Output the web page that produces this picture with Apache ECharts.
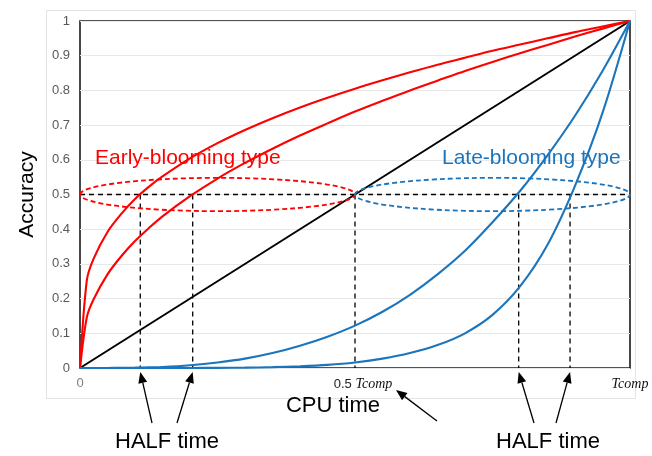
<!DOCTYPE html>
<html><head><meta charset="utf-8">
<script src="https://cdn.jsdelivr.net/npm/echarts@6/dist/echarts.min.js"></script>
<style>html,body{margin:0;padding:0;background:#fff}#c{width:652px;height:456px}</style>
</head><body><div id="c"></div>
<script>
// ---- data ----
const xs          = [0, 0.0125, 0.025, 0.05, 0.075, 0.1, 0.125, 0.15, 0.2, 0.25, 0.3, 0.35, 0.4, 0.45, 0.5, 0.55, 0.6, 0.65, 0.7, 0.75, 0.8, 0.85, 0.9, 0.95, 1];
const earlyFast   = [0, 0.254, 0.316, 0.392, 0.444, 0.487, 0.522, 0.552, 0.604, 0.648, 0.686, 0.720, 0.751, 0.779, 0.805, 0.829, 0.852, 0.874, 0.894, 0.914, 0.932, 0.950, 0.968, 0.984, 1];
const earlySlow   = [0, 0.147, 0.199, 0.270, 0.322, 0.366, 0.403, 0.437, 0.495, 0.546, 0.591, 0.632, 0.670, 0.705, 0.739, 0.770, 0.800, 0.828, 0.856, 0.882, 0.907, 0.931, 0.955, 0.978, 1];
const lateSlow    = [0, 0, 0, 0.0001, 0.0004, 0.001, 0.002, 0.003, 0.008, 0.016, 0.027, 0.043, 0.064, 0.090, 0.122, 0.162, 0.211, 0.270, 0.338, 0.420, 0.510, 0.613, 0.727, 0.856, 1];
const lateSlower  = [0, 0, 0, 0, 0, 0, 0, 0, 0.0001, 0.0004, 0.001, 0.0025, 0.005, 0.009, 0.016, 0.027, 0.043, 0.066, 0.100, 0.153, 0.235, 0.355, 0.525, 0.735, 1];
const diagonal    = [[0, 0], [1, 1]];
const halfLevel   = 0.5;
const halfTimes   = [0.1096, 0.2049, 0.5, 0.7976, 0.891];
const ellipses    = [[0.25, 0.5, 0.25, 0.048], [0.75, 0.5, 0.25, 0.048]]; // cx, cy, rx, ry
const yTickLabels = ['0', '0.1', '0.2', '0.3', '0.4', '0.5', '0.6', '0.7', '0.8', '0.9', '1'];
const xTickLabels = {0: '{g|0}', 0.5: '{n|0.5 }{t|Tcomp}', 1: '{t|Tcomp}'};
const typeLabels  = ['Early-blooming type', 'Late-blooming type'];

const RED = '#ff0000', BLUE = '#1b75bc';
const chart = echarts.init(document.getElementById('c'));
const pairs = ys => xs.map((x, i) => [x, ys[i]]);
const curve = (ys, color) => ({
  type: 'line', data: pairs(ys), showSymbol: false, smooth: 0.3,
  clip: false, lineStyle: {color, width: 2.1}, itemStyle: {color}, z: 4, silent: true
});

chart.setOption({
  animation: false,
  grid: {left: 80, right: 22, top: 21, bottom: 88, show: true, borderColor: '#1a1a1a', borderWidth: 1.6, backgroundColor: '#fff'},
  xAxis: {
    type: 'value', min: 0, max: 1, interval: 0.5,
    axisLine: {show: false}, axisTick: {show: false}, splitLine: {show: false},
    axisLabel: {
      margin: 9, formatter: v => xTickLabels[v] || '',
      rich: {
        g: {color: '#7f7f7f', fontSize: 13, fontFamily: 'Liberation Sans'},
        n: {color: '#222', fontSize: 13, fontFamily: 'Liberation Sans', padding: [0, 0, 0, 16]},
        t: {color: '#111', fontSize: 14, fontStyle: 'italic', fontFamily: 'Liberation Serif'}
      }
    }
  },
  yAxis: {
    type: 'value', min: 0, max: 1, interval: 0.1,
    name: 'Accuracy', nameLocation: 'middle', nameGap: 42,
    nameTextStyle: {color: '#000', fontSize: 21, fontFamily: 'Liberation Sans'},
    axisLine: {show: false}, axisTick: {show: false},
    splitLine: {lineStyle: {color: '#e8e8e8', width: 1}},
    axisLabel: {color: '#595959', fontSize: 13, fontFamily: 'Liberation Sans', margin: 10,
      formatter: v => yTickLabels[Math.round(v * 10)]}
  },
  series: [
    {type: 'line', data: diagonal, showSymbol: false, clip: false, lineStyle: {color: '#000', width: 2}, z: 3, silent: true},
    {type: 'line', data: [[0, halfLevel], [1, halfLevel]], showSymbol: false, clip: false,
     lineStyle: {color: '#000', width: 1.3, type: [5, 4]}, z: 3, silent: true},
    {type: 'custom', data: halfTimes.map(x => [x, halfLevel]), clip: false, z: 3, silent: true,
     renderItem: (p, api) => {
       const a = api.coord([api.value(0), api.value(1)]);
       const b = api.coord([api.value(0), 0]);
       return {type: 'line', shape: {x1: a[0], y1: a[1], x2: b[0], y2: b[1]},
               style: {stroke: '#000', lineWidth: 1.3, lineDash: [5, 4]}};
     }},
    curve(earlyFast, RED), curve(earlySlow, RED), curve(lateSlow, BLUE), curve(lateSlower, BLUE),
    {type: 'custom', data: ellipses, clip: false, z: 5, silent: true,
     renderItem: (p, api) => {
       const c = api.coord([api.value(0), api.value(1)]);
       const e = api.coord([api.value(0) + api.value(2), api.value(1) + api.value(3)]);
       return {type: 'ellipse', shape: {cx: c[0], cy: c[1], rx: e[0] - c[0], ry: c[1] - e[1]},
               style: {fill: 'none', stroke: p.dataIndex === 0 ? RED : BLUE, lineWidth: 1.8, lineDash: [5, 3]}};
     }}
  ]
});

function arrow(x1, y1, x2, y2) {
  const ang = Math.atan2(y2 - y1, x2 - x1), L = 11, W = 4.5;
  const bx = x2 - L * Math.cos(ang), by = y2 - L * Math.sin(ang);
  const px = -Math.sin(ang) * W, py = Math.cos(ang) * W;
  return [
    {type: 'line', shape: {x1, y1, x2: bx, y2: by}, style: {stroke: '#000', lineWidth: 1.3}, silent: true},
    {type: 'polygon', shape: {points: [[x2, y2], [bx + px, by + py], [bx - px, by - py]]}, style: {fill: '#000'}, silent: true}
  ];
}
const tip = i => { const p = chart.convertToPixel({gridIndex: 0}, [halfTimes[i], 0]); return [p[0], p[1] + 4]; };
const t0 = tip(0), t1 = tip(1), t3 = tip(3), t4 = tip(4);
const mid = chart.convertToPixel({gridIndex: 0}, [0.5, 0]);
const txt = (x, y, s, color, size, align) => ({type: 'text', x, y, silent: true,
  style: {text: s, fill: color, fontSize: size, fontFamily: 'Liberation Sans', align: align || 'center', verticalAlign: 'middle'}});

chart.setOption({graphic: [
  {type: 'rect', shape: {x: 46.5, y: 10.5, width: 589, height: 388}, style: {fill: 'none', stroke: '#e3e3e3', lineWidth: 1}, z: -10, silent: true},
  txt(95, 158, typeLabels[0], RED, 21, 'left'),
  txt(442, 158, typeLabels[1], BLUE, 21, 'left'),
  txt(333, 406, 'CPU time', '#000', 22),
  txt(167, 442, 'HALF time', '#000', 22),
  txt(548, 442, 'HALF time', '#000', 22),
  ...arrow(152, 423, t0[0], t0[1]),
  ...arrow(177, 423, t1[0], t1[1]),
  ...arrow(534, 423, t3[0], t3[1]),
  ...arrow(556, 423, t4[0], t4[1]),
  ...arrow(437, 421, mid[0] + 41, mid[1] + 22)
]});
</script></body></html>
